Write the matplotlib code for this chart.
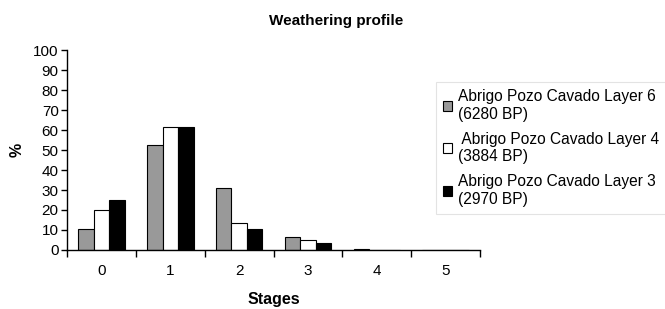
import numpy as np
import matplotlib
matplotlib.use("Agg")
import matplotlib.pyplot as plt

plt.rcParams["font.family"] = ["Liberation Sans", "DejaVu Sans"]

# datos
stages = ["0", "1", "2", "3", "4", "5"]
layer6 = [10.5, 52.5, 31, 6.3, 0.5, 0]
layer4 = [20, 61.3, 13.6, 5, 0, 0]
layer3 = [25, 61.3, 10.5, 3.3, 0, 0]
labels = ["Abrigo Pozo Cavado Layer 6\n(6280 BP)",
          " Abrigo Pozo Cavado Layer 4\n(3884 BP)",
          "Abrigo Pozo Cavado Layer 3\n(2970 BP)"]

fig = plt.figure(figsize=(6.65, 3.09), dpi=100)
ax = fig.add_axes([0.1008, 0.191, 0.6212, 0.647])

x = np.arange(len(stages))
w = 0.225
ax.bar(x - w, layer6, w, color="#999999", edgecolor="black", linewidth=0.8, label=labels[0])
ax.bar(x, layer4, w, color="white", edgecolor="black", linewidth=0.8, label=labels[1])
ax.bar(x + w, layer3, w, color="black", edgecolor="black", linewidth=0.8, label=labels[2])

ax.set_xlim(-0.5, len(stages) - 0.5)
ax.set_ylim(0, 100)
ax.set_yticks(range(0, 101, 10))
ax.set_xticks(x)
ax.set_xticklabels(stages)
ax.set_xticks(np.arange(-0.5, len(stages)), minor=True)
ax.tick_params(axis="x", which="major", length=0, pad=10, labelsize=11)
ax.tick_params(axis="x", which="minor", length=5, direction="out", width=1)
ax.tick_params(axis="y", length=4, direction="out", width=1, labelsize=11, pad=2)
for s in ["top", "right"]:
    ax.spines[s].set_visible(False)
for s in ["left", "bottom"]:
    ax.spines[s].set_linewidth(1)

ax.set_xlabel("Stages", fontweight="bold", fontsize=11.5, labelpad=10)
ax.set_ylabel("%", fontweight="bold", fontsize=11.5, labelpad=6)
fig.suptitle("Weathering profile", fontweight="bold", fontsize=11, x=0.505, y=0.955)

leg = fig.legend(loc="upper left", bbox_to_anchor=(0.655, 0.734), fontsize=11.2,
                 frameon=True, fancybox=False, handlelength=0.6, handleheight=0.6,
                 handletextpad=0.4, labelspacing=0.65, borderpad=0.45,
                 borderaxespad=0)
leg.get_frame().set_edgecolor("#dddddd")
leg.get_frame().set_linewidth(0.8)

fig.savefig("out.png", dpi=100)
